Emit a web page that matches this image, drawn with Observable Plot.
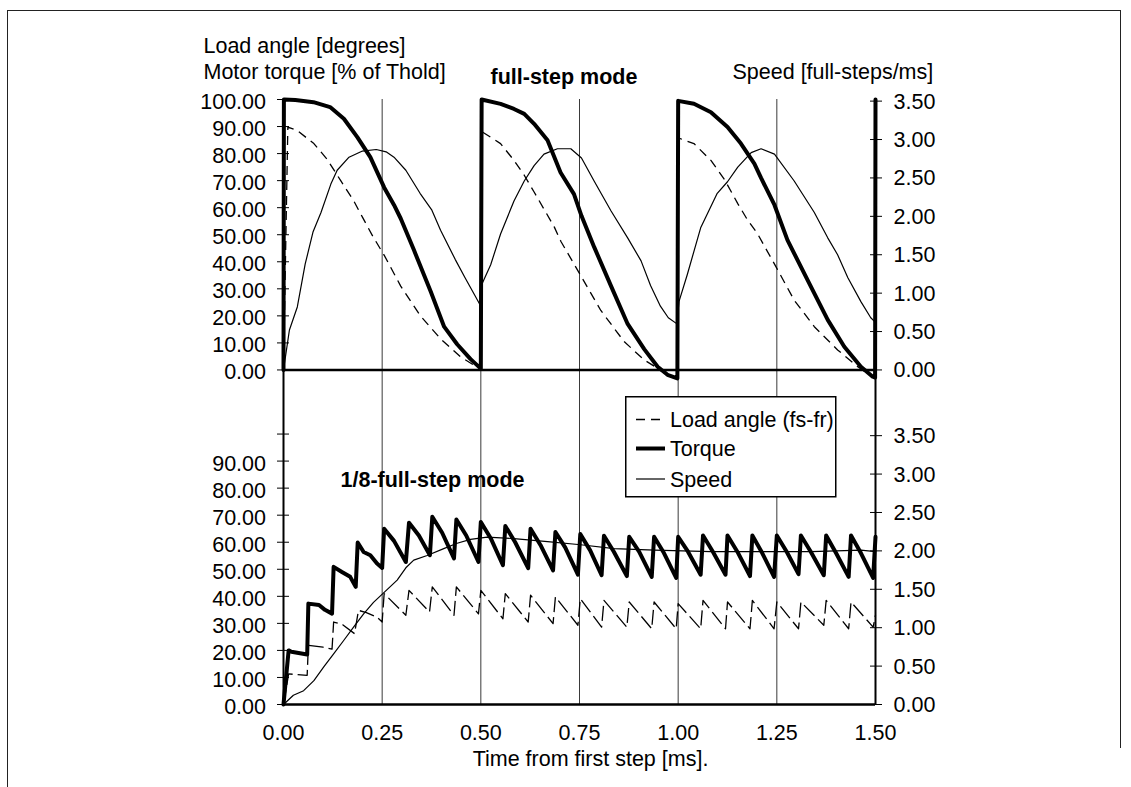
<!DOCTYPE html>
<html>
<head>
<meta charset="utf-8">
<script src="https://cdn.jsdelivr.net/npm/d3@7"></script>
<script src="https://cdn.jsdelivr.net/npm/@observablehq/plot@0.6"></script>
<style>
  html, body { margin: 0; padding: 0; background: #fff; }
  #wrap { position: relative; width: 1131px; height: 787px; overflow: hidden;
          font-family: "Liberation Sans", Arial, Helvetica, sans-serif; }
  #chart svg { display: block; }
  .frameA { position: absolute; left: 7px; top: 10px; width: 1114px; height: 777px;
            border-left: 1.5px solid #222; border-top: 1.5px solid #222; box-sizing: border-box; }
  .frameB { position: absolute; left: 1120px; top: 10px; width: 0; height: 738px;
            border-left: 1.5px solid #222; }
  #legend { position: absolute; left: 625px; top: 396px; }
</style>
</head>
<body>
<div id="wrap">
  <div id="chart"></div>
  <div class="frameA"></div>
  <div class="frameB"></div>
  <div id="legend"></div>
</div>
<script>
// ---------- tick values ----------
const xTicks = [0, 0.25, 0.5, 0.75, 1, 1.25, 1.5];
const gridTicks = [0.25, 0.5, 0.75, 1, 1.25];
const pctTicks = [0, 10, 20, 30, 40, 50, 60, 70, 80, 90, 100];
const speedTicks = [0, 0.5, 1, 1.5, 2, 2.5, 3, 3.5];

// ---------- full-step mode (upper panel) ----------
const fsTorqueT = [0, 0.001, 0.03, 0.076, 0.118, 0.153, 0.187, 0.22, 0.255, 0.28, 0.297, 0.33, 0.373, 0.407, 0.44, 0.474, 0.5,
  0.502, 0.55, 0.584, 0.61, 0.635, 0.669, 0.702, 0.736, 0.755, 0.787, 0.83, 0.872, 0.914, 0.948, 0.973, 0.998,
  1.0, 1.04, 1.083, 1.125, 1.159, 1.193, 1.21, 1.244, 1.277, 1.328, 1.379, 1.421, 1.463, 1.493, 1.499, 1.5];
const fsTorque = [0, 100, 99.8, 99, 97.2, 92.9, 86.1, 78.7, 67.5, 61, 56, 44.5, 29, 16, 9.5, 4, 0.5,
  100, 98.4, 96.5, 94.7, 91, 84.9, 73, 65, 57, 45.5, 31, 17, 7.7, 1.2, -1.8, -3.1,
  99.5, 98.4, 95.3, 89.8, 83.7, 76.3, 71, 61, 48, 33.2, 18.5, 8.6, 1.2, -2.5, -2.8, 100];

const fsLoadT = [0, 0.011, 0.034, 0.077, 0.11, 0.145, 0.178, 0.2, 0.226, 0.256, 0.297, 0.347, 0.398, 0.449, 0.483, 0.5,
  0.504, 0.55, 0.584, 0.61, 0.635, 0.686, 0.703, 0.755, 0.804, 0.863, 0.914, 0.948, 0.98, 0.998,
  1.0, 1.04, 1.083, 1.117, 1.151, 1.176, 1.201, 1.248, 1.294, 1.345, 1.404, 1.455, 1.48, 1.497];
const fsLoad = [0, 89.8, 88.6, 83.7, 78, 70, 62.5, 56.5, 49.5, 42.2, 31, 20, 11.5, 4.8, 1.7, 0.5,
  88, 83.7, 77.5, 72, 65.8, 52.9, 47.5, 34.4, 22, 10.5, 3.7, 0.6, -2.5, -2.8,
  85.8, 83.7, 77.5, 70.5, 61.5, 55.4, 50.4, 38.1, 25.8, 16, 7.4, 1.2, -1.2, -2.6];

const fsSpeedT = [0, 0.015, 0.035, 0.055, 0.075, 0.095, 0.12, 0.136, 0.166, 0.2, 0.235, 0.26, 0.28, 0.31, 0.346, 0.376, 0.398, 0.435, 0.46, 0.485, 0.5,
  0.502, 0.525, 0.55, 0.584, 0.61, 0.635, 0.66, 0.694, 0.728, 0.755, 0.787, 0.83, 0.872, 0.906, 0.93, 0.955, 0.975, 0.997,
  1.002, 1.023, 1.057, 1.099, 1.125, 1.151, 1.185, 1.21, 1.244, 1.294, 1.345, 1.379, 1.404, 1.43, 1.463, 1.488, 1.5];
const fsSpeed = [0, 0.52, 0.82, 1.38, 1.8, 2.05, 2.42, 2.6, 2.77, 2.85, 2.87, 2.84, 2.77, 2.6, 2.3, 2.08, 1.82, 1.44, 1.2, 0.97, 0.83,
  1.11, 1.37, 1.77, 2.2, 2.46, 2.66, 2.81, 2.88, 2.88, 2.76, 2.46, 2.07, 1.72, 1.42, 1.1, 0.83, 0.68, 0.6,
  0.89, 1.24, 1.85, 2.3, 2.45, 2.64, 2.83, 2.88, 2.81, 2.46, 2.05, 1.72, 1.5, 1.2, 0.89, 0.68, 0.62];

// ---------- 1/8-full-step mode (lower panel) ----------
const msTorqueT = [0, 0.013, 0.02, 0.06, 0.063, 0.09, 0.105, 0.123, 0.127, 0.148, 0.169, 0.183, 0.188, 0.203, 0.22, 0.237, 0.25,
  0.255, 0.28, 0.31, 0.318, 0.343, 0.371, 0.377, 0.402, 0.432, 0.438, 0.463, 0.494,
  0.5, 0.525, 0.556, 0.562, 0.587, 0.62, 0.626, 0.651, 0.683, 0.689, 0.714, 0.746,
  0.752, 0.777, 0.806, 0.812, 0.837, 0.87, 0.876, 0.901, 0.933, 0.939, 0.964, 0.995,
  1.0, 1.025, 1.057, 1.063, 1.088, 1.12, 1.125, 1.15, 1.182, 1.188, 1.213, 1.243,
  1.25, 1.275, 1.305, 1.311, 1.336, 1.369, 1.375, 1.4, 1.432, 1.438, 1.463, 1.494, 1.5];
const msTorque = [0, 20, 19.5, 18.5, 37.3, 36.8, 35, 33.6, 50.9, 49, 47.2, 43.5, 59.9, 56.4, 55.2, 52.1, 50.5,
  65, 60.5, 52.7, 67.2, 62.5, 55.2, 69.4, 63.5, 54, 68.4, 62.5, 52.7,
  67.5, 61.5, 51.5, 66, 60, 50.4, 65, 59, 49.6, 63.8, 58, 48,
  63, 57, 47.8, 62.4, 56.5, 47.5, 62, 56.5, 47.2, 62, 56, 46.8,
  62, 56.5, 48, 62.5, 56.5, 48, 62.5, 56.5, 47.5, 62.5, 56, 47.2,
  62.5, 56.5, 48.2, 62.5, 56.5, 47.8, 62.5, 56, 47.2, 62.5, 56, 46.8, 62];

const msLoadT = [0, 0.013, 0.06, 0.063, 0.1, 0.123, 0.127, 0.15, 0.18, 0.19, 0.21, 0.237, 0.25,
  0.255, 0.31, 0.318, 0.37, 0.377, 0.432, 0.438, 0.494, 0.5, 0.556, 0.562, 0.62, 0.626, 0.683, 0.689, 0.746,
  0.752, 0.806, 0.812, 0.87, 0.876, 0.933, 0.939, 0.995, 1.0, 1.057, 1.063, 1.12, 1.125, 1.182, 1.188, 1.243,
  1.25, 1.305, 1.311, 1.369, 1.375, 1.432, 1.438, 1.494, 1.5];
const msLoad = [0, 11.3, 10.8, 21.9, 21.2, 20.5, 30.5, 29.5, 26.2, 34.8, 34, 32.3, 30.5,
  41, 33, 42.2, 34.2, 43.5, 33, 43.5, 33.5, 42.2, 31.7, 41, 30.5, 40.4, 29.9, 39.8, 29.3,
  39.1, 28.6, 38.5, 28.6, 37.9, 28, 37.9, 28, 37.3, 28, 38.5, 28, 37.9, 28, 38.5, 28,
  37.9, 28, 37.9, 29.3, 38.5, 28, 37.9, 28.6, 33];

const msSpeedT = [0, 0.025, 0.051, 0.077, 0.102, 0.127, 0.152, 0.178, 0.203, 0.228, 0.255, 0.288, 0.31, 0.33, 0.364,
  0.406, 0.44, 0.474, 0.516, 0.584, 0.669, 0.753, 0.838, 0.94, 1.083, 1.21, 1.337, 1.463, 1.5];
const msSpeed = [0, 0.12, 0.18, 0.31, 0.49, 0.66, 0.83, 1.01, 1.18, 1.33, 1.46, 1.62, 1.78, 1.88, 1.94,
  2.03, 2.1, 2.15, 2.18, 2.16, 2.12, 2.08, 2.03, 2.01, 1.99, 1.99, 1.99, 2.01, 1.99];

// ---------- layout constants ----------
const TOP = 123.7;   // the full-step panel sits this far up the shared vertical scale
const K = 28.4;      // % units per full-step/ms (secondary axis)
const FONT = '"Liberation Sans", Arial, Helvetica, sans-serif';

const rows = (T, V) => T.map((t, i) => ({t, v: V[i]}));
const dash = "9,6";
const dashLower = "15,5";

const leftTickOpts = {anchor: "left", tickSize: 12, dx: 6, fill: "none", stroke: "black", label: null};
const rightTickOpts = {anchor: "right", tickSize: 12, dx: -6, fill: "none", stroke: "black", label: null};
const leftLabelOpts = {anchor: "left", tickSize: 0, tickPadding: 17.5, stroke: "none", dy: 2.6, label: null};
const rightLabelOpts = {anchor: "right", tickSize: 0, tickPadding: 18, stroke: "none", dy: 0.6, label: null};

const note = (s, o) => Plot.text([s], {frameAnchor: "top-left", textAnchor: "start", lineAnchor: "top", fill: "black", ...o});

const chart = Plot.plot({
  width: 1131,
  height: 787,
  marginLeft: 283,
  marginRight: 256,
  marginTop: 99,
  marginBottom: 83,
  x: {domain: [0, 1.5]},
  y: {domain: [0, TOP + 100]},
  style: {fontFamily: FONT, fontSize: "21.5px", background: "white", color: "black"},
  marks: [
    Plot.ruleX(gridTicks, {stroke: "#3a3a3a", strokeWidth: 1}),
    Plot.ruleX([0, 1.5], {stroke: "black", strokeWidth: 2}),
    Plot.ruleY([0, TOP], {stroke: "black", strokeWidth: 2.5}),

    // lower panel: 1/8-full-step mode
    Plot.line(rows(msLoadT, msLoad), {x: "t", y: "v", stroke: "black", strokeWidth: 1.3, strokeDasharray: dashLower, strokeLinecap: "butt"}),
    Plot.line(rows(msSpeedT, msSpeed), {x: "t", y: d => d.v * K, stroke: "black", strokeWidth: 1.2}),
    Plot.line(rows(msTorqueT, msTorque), {x: "t", y: "v", stroke: "black", strokeWidth: 4}),

    // upper panel: full-step mode
    Plot.line(rows(fsLoadT, fsLoad), {x: "t", y: d => d.v + TOP, stroke: "black", strokeWidth: 1.3, strokeDasharray: dash, strokeLinecap: "butt"}),
    Plot.line(rows(fsSpeedT, fsSpeed), {x: "t", y: d => d.v * K + TOP, stroke: "black", strokeWidth: 1.2}),
    Plot.line(rows(fsTorqueT, fsTorque), {x: "t", y: d => d.v + TOP, stroke: "black", strokeWidth: 4}),

    // crossing tick marks
    Plot.axisY(pctTicks, leftTickOpts),
    Plot.axisY(pctTicks.map(v => v + TOP), leftTickOpts),
    Plot.axisY(speedTicks.map(s => s * K), rightTickOpts),
    Plot.axisY(speedTicks.map(s => s * K + TOP), rightTickOpts),

    // tick labels
    Plot.axisY(pctTicks.filter(v => v < 100), {...leftLabelOpts, tickFormat: v => v.toFixed(2)}),
    Plot.axisY(pctTicks.map(v => v + TOP), {...leftLabelOpts, tickFormat: v => (v - TOP).toFixed(2)}),
    Plot.axisY(speedTicks.map(s => s * K), {...rightLabelOpts, tickFormat: v => (v / K).toFixed(2)}),
    Plot.axisY(speedTicks.map(s => s * K + TOP), {...rightLabelOpts, tickFormat: v => ((v - TOP) / K).toFixed(2)}),
    Plot.axisX(xTicks, {anchor: "bottom", tickSize: 0, tickPadding: 20, tickFormat: d => d.toFixed(2), label: null}),

    // titles
    note("Load angle [degrees]", {dx: -80, dy: -62}),
    note("Motor torque [% of Thold]", {dx: -80, dy: -35.5}),
    note("full-step mode", {dx: 207, dy: -30.5, fontWeight: "bold"}),
    note("Speed [full-steps/ms]", {dx: 449, dy: -35.5}),
    note("1/8-full-step mode", {dx: 57, dy: 372, fontWeight: "bold"}),
    note("Time from first step [ms].", {dx: 307, dy: 651.5, textAnchor: "middle"})
  ]
});
document.getElementById("chart").appendChild(chart);

// ---------- legend ----------
const legendNames = ["Load angle (fs-fr)", "Torque", "Speed"];
const legendWidths = [1.3, 4, 1.2];
const legendDash = [dash, null, null];
const lg = d3.select("#legend").append("svg")
  .attr("width", 212).attr("height", 102)
  .style("display", "block")
  .style("font-family", FONT).style("font-size", "21.5px");
lg.append("rect").attr("x", 0.75).attr("y", 0.75).attr("width", 210).attr("height", 100)
  .attr("fill", "white").attr("stroke", "black").attr("stroke-width", 1.5);
const rowY = [23.5, 52.5, 83];
legendNames.forEach((name, i) => {
  lg.append("line").attr("x1", 11).attr("x2", 40).attr("y1", rowY[i]).attr("y2", rowY[i])
    .attr("stroke", "black").attr("stroke-width", legendWidths[i])
    .attr("stroke-dasharray", legendDash[i]);
  lg.append("text").attr("x", 45).attr("y", rowY[i] + 7.5).attr("fill", "black").text(name);
});
</script>
</body>
</html>
